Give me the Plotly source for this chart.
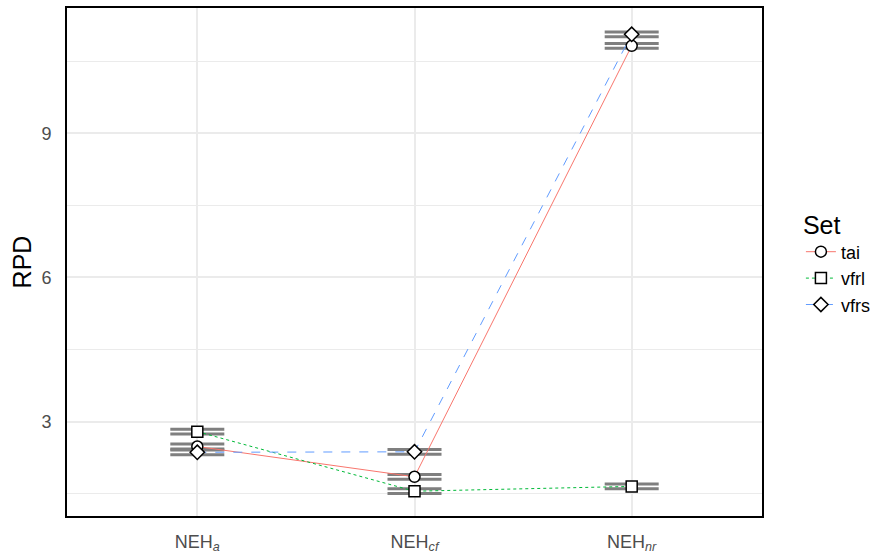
import plotly.graph_objects as go

categories = ["NEHa", "NEHcf", "NEHnr"]
tick_labels = ["NEH<sub><i>a</i></sub>", "NEH<sub><i>cf</i></sub>", "NEH<sub><i>nr</i></sub>"]
series = ["tai", "vfrl", "vfrs"]
tai = [2.48, 1.85, 10.82]
vfrl = [2.79, 1.55, 1.65]
vfrs = [2.36, 2.37, 11.06]
tai_err = [0.05, 0.05, 0.05]
vfrl_err = [0.05, 0.05, 0.05]
vfrs_err = [0.05, 0.05, 0.05]

values = {"tai": tai, "vfrl": vfrl, "vfrs": vfrs}
errs = {"tai": tai_err, "vfrl": vfrl_err, "vfrs": vfrs_err}
colors = {"tai": "#F8766D", "vfrl": "#00BA38", "vfrs": "#619CFF"}
dashes = {"tai": "solid", "vfrl": "dot", "vfrs": "dash"}
symbols = {"tai": "circle", "vfrl": "square", "vfrs": "diamond"}

x_idx = list(range(len(categories)))

fig = go.Figure()

# error bars beneath lines
for s in series:
    fig.add_trace(go.Scatter(
        x=x_idx, y=values[s], mode="markers",
        marker=dict(size=1, opacity=0),
        error_y=dict(type="data", array=errs[s], color="#7F7F7F",
                     thickness=3, width=27),
        showlegend=False, hoverinfo="skip"))

for s in series:
    fig.add_trace(go.Scatter(
        x=x_idx, y=values[s], mode="lines+markers", name=s,
        line=dict(color=colors[s], width=1, dash=dashes[s]),
        marker=dict(symbol=symbols[s], size=11,
                    color="white", line=dict(color="black", width=1.5))))

fig.update_layout(
    width=882, height=560,
    margin=dict(l=67, r=120, t=6, b=43),
    plot_bgcolor="white", paper_bgcolor="white",
    font=dict(family="Liberation Sans, Arial, sans-serif"),
    legend=dict(title=dict(text="Set", font=dict(size=25, color="black")),
                font=dict(size=18, color="black"),
                x=1.056, xanchor="left", y=0.5, yanchor="middle",
                tracegroupgap=0, itemwidth=30),
    showlegend=True,
)

fig.update_xaxes(
    range=[-0.6, 2.6], tickvals=x_idx, ticktext=tick_labels,
    showgrid=True, gridcolor="#EBEBEB", gridwidth=2,
    zeroline=False, showline=True, linecolor="black", linewidth=2, mirror=True,
    tickfont=dict(size=18, color="#4D4D4D"), ticks="", ticklabelstandoff=8)

fig.update_yaxes(
    range=[1.034, 11.607], tickvals=[3, 6, 9],
    showgrid=True, gridcolor="#EBEBEB", gridwidth=2,
    minor=dict(tickvals=[1.5, 4.5, 7.5, 10.5], showgrid=True,
               gridcolor="#EBEBEB", gridwidth=1),
    zeroline=False, showline=True, linecolor="black", linewidth=2, mirror=True,
    tickfont=dict(size=18, color="#4D4D4D"), ticks="", ticklabelstandoff=10,
    title=dict(text="RPD", font=dict(size=25, color="black"), standoff=3))

fig.write_html("out.html")
